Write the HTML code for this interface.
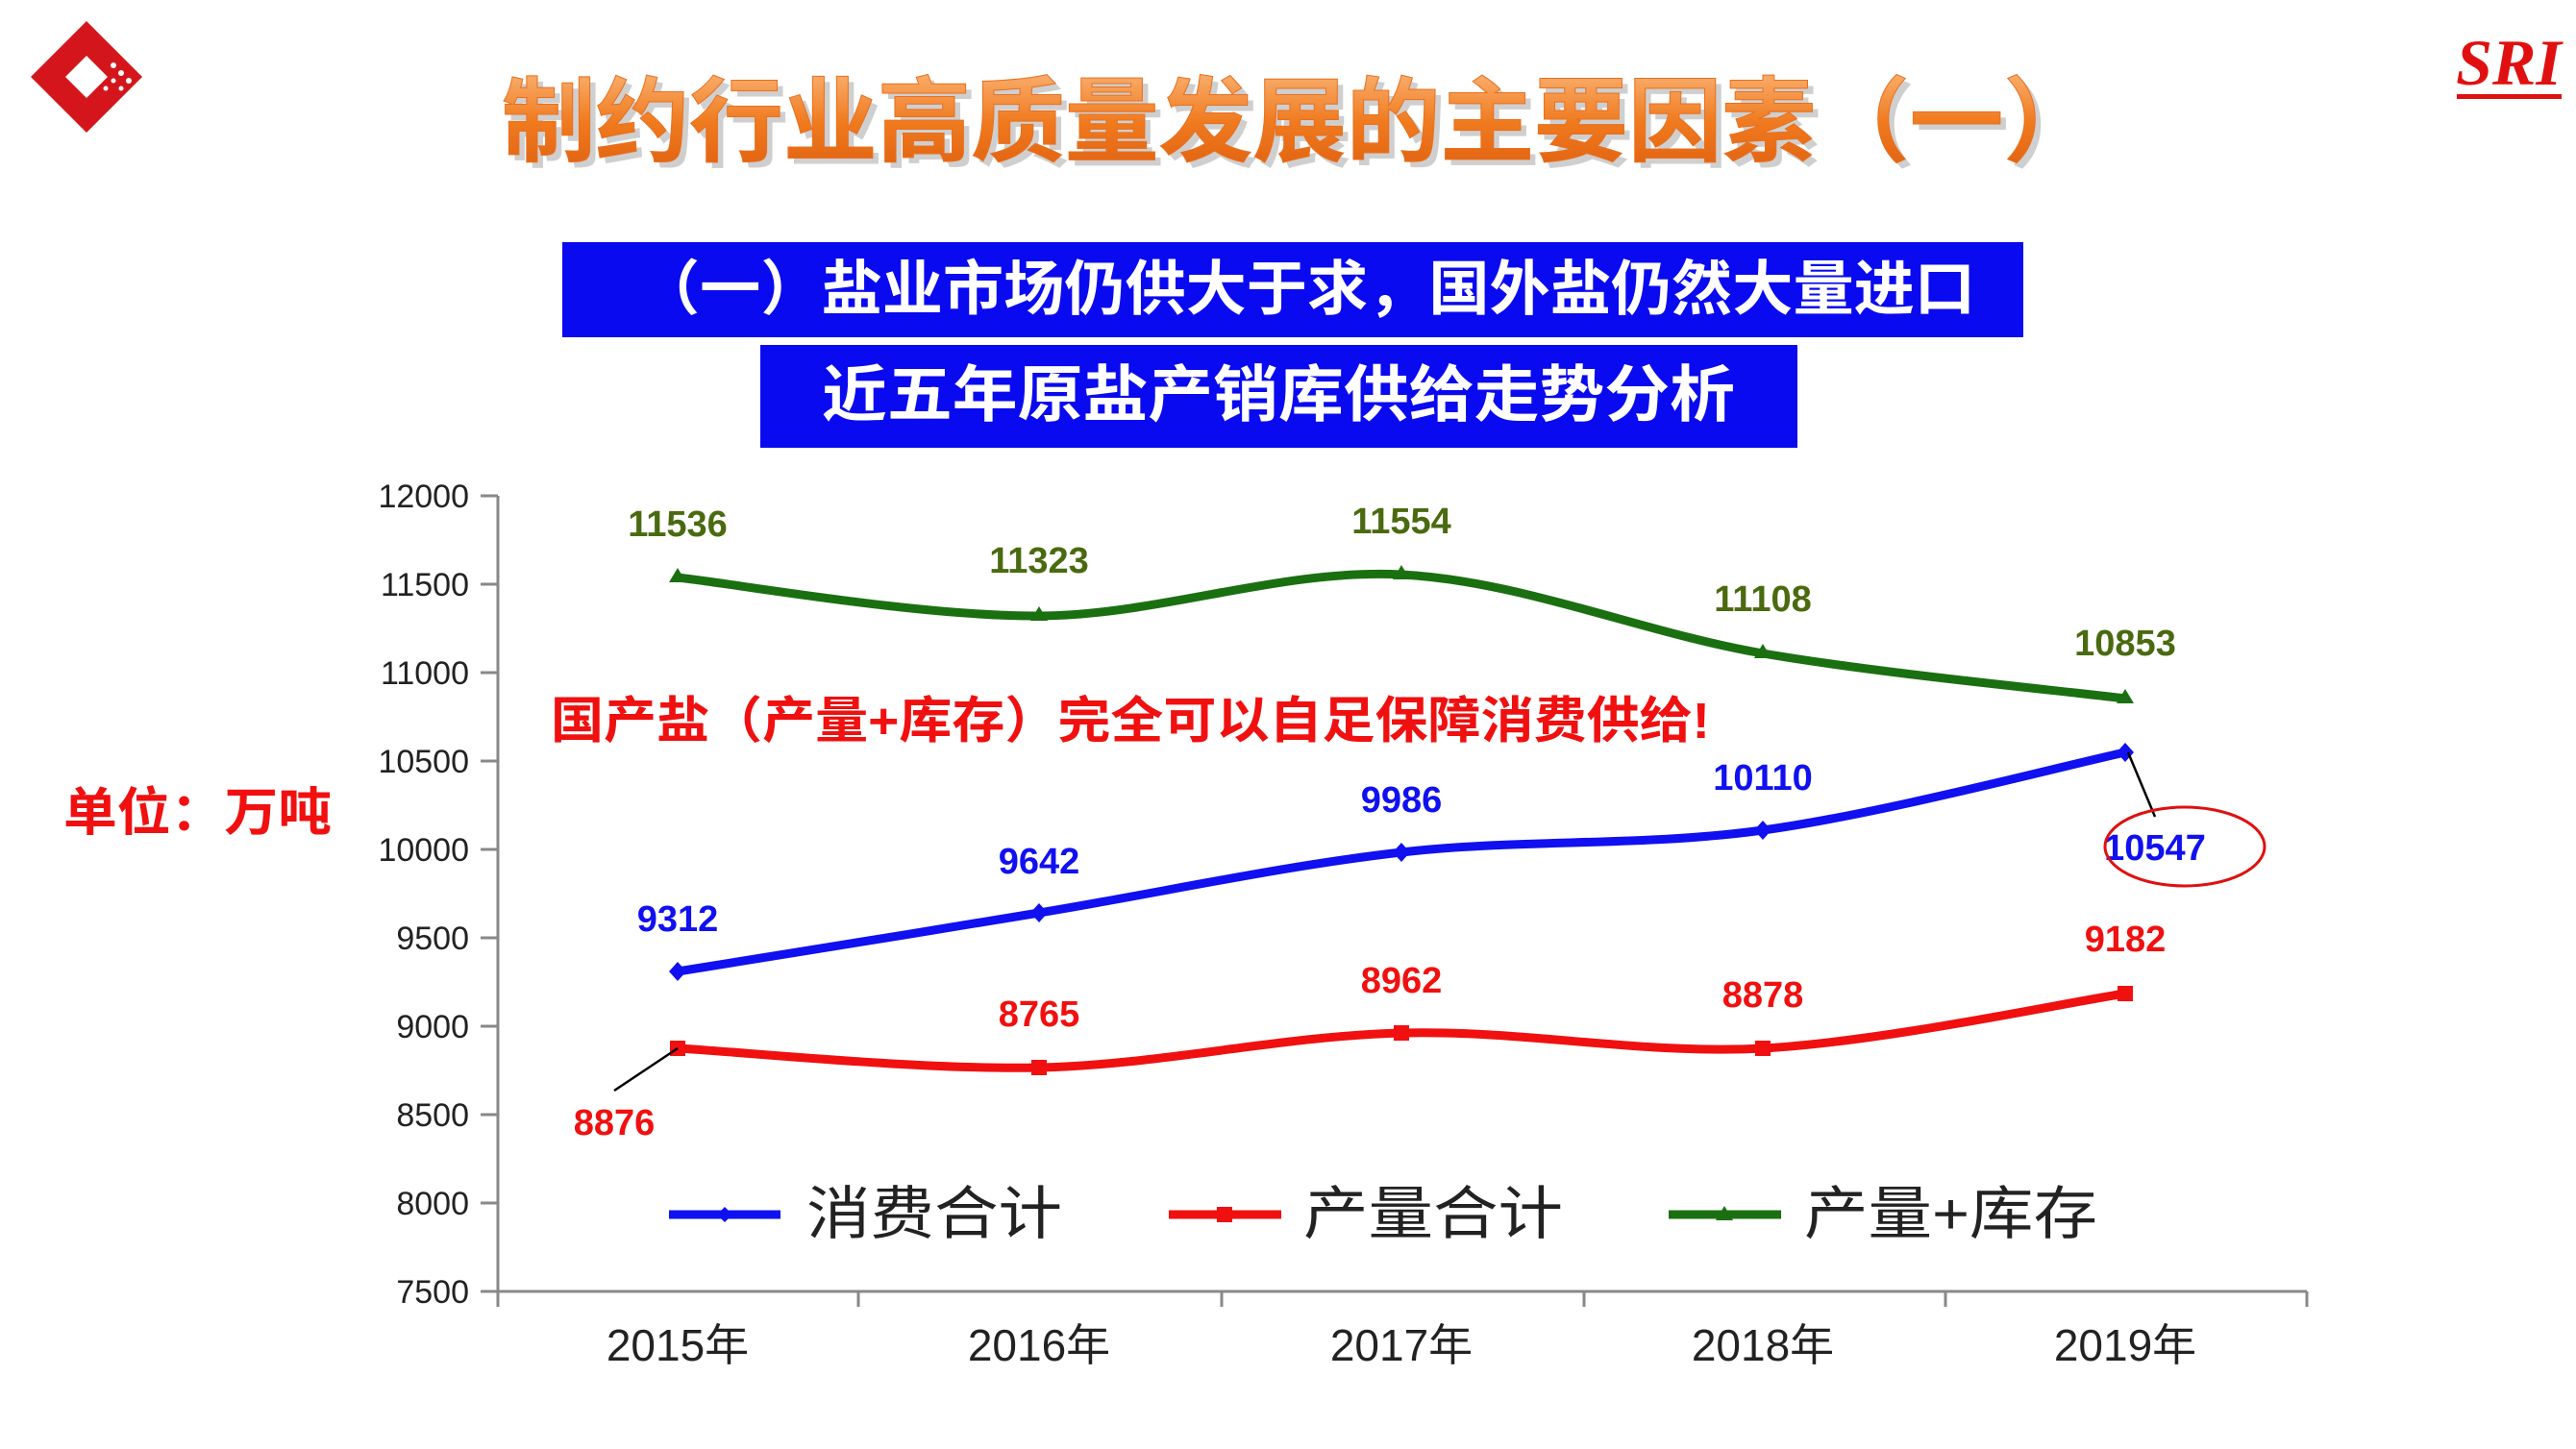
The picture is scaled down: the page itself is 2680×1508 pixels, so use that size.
<!DOCTYPE html>
<html><head><meta charset="utf-8"><style>
html,body{margin:0;padding:0;background:#fff;}
svg{display:block;}
</style></head><body>
<svg width="2680" height="1508" viewBox="0 0 2680 1508" xmlns="http://www.w3.org/2000/svg" font-family="'Liberation Sans','Noto Sans CJK SC',sans-serif">
<defs>
<linearGradient id="og" x1="0" y1="0" x2="0" y2="1">
<stop offset="0" stop-color="#f9b070"/><stop offset="0.5" stop-color="#f07a1e"/><stop offset="1" stop-color="#e06010"/>
</linearGradient>
</defs>
<!-- logo -->
<polygon points="90,22 148,80 90,138 32,80" fill="#d4161c"/>
<polygon points="90,58 112,80 90,102 68,80" fill="#fff"/>
<g fill="#fff"><circle cx="118" cy="68" r="3"/><circle cx="126" cy="76" r="3"/><circle cx="134" cy="84" r="3"/><circle cx="118" cy="84" r="2.5"/><circle cx="126" cy="92" r="2.5"/><circle cx="110" cy="92" r="2.5"/></g>
<!-- SRI -->
<text x="2610" y="88" text-anchor="middle" font-family="'Liberation Serif',serif" font-style="italic" font-weight="bold" font-size="68" fill="#e01010">SRI</text>
<rect x="2556" y="98" width="109" height="5" fill="#e01010"/>
<!-- title -->
<text x="1358" y="166" text-anchor="middle" font-size="96" font-weight="bold" fill="#a0a0a0" opacity="0.5" textLength="1660" lengthAdjust="spacingAndGlyphs">制约行业高质量发展的主要因素（一）</text>
<text x="1352" y="160" text-anchor="middle" font-size="96" font-weight="bold" fill="url(#og)" stroke="#e87020" stroke-width="1" textLength="1660" lengthAdjust="spacingAndGlyphs">制约行业高质量发展的主要因素（一）</text>
<!-- boxes -->
<rect x="585" y="252" width="1520" height="99" fill="#0a0af0"/>
<text x="1360" y="322" text-anchor="middle" font-size="62" font-weight="bold" fill="#fff" textLength="1390" lengthAdjust="spacingAndGlyphs">（一）盐业市场仍供大于求，国外盐仍然大量进口</text>
<rect x="791" y="359" width="1079" height="107" fill="#0a0af0"/>
<text x="1330" y="433" text-anchor="middle" font-size="64" font-weight="bold" fill="#fff" textLength="950" lengthAdjust="spacingAndGlyphs">近五年原盐产销库供给走势分析</text>
<!-- axes -->
<g stroke="#888" stroke-width="3" fill="none">
<line x1="518" y1="516" x2="518" y2="1360"/>
<line x1="518" y1="1344" x2="2400" y2="1344"/>
<line x1="500" y1="516" x2="518" y2="516"/><line x1="500" y1="608" x2="518" y2="608"/><line x1="500" y1="700" x2="518" y2="700"/><line x1="500" y1="792" x2="518" y2="792"/><line x1="500" y1="884" x2="518" y2="884"/><line x1="500" y1="976" x2="518" y2="976"/><line x1="500" y1="1068" x2="518" y2="1068"/><line x1="500" y1="1160" x2="518" y2="1160"/><line x1="500" y1="1252" x2="518" y2="1252"/><line x1="500" y1="1344" x2="518" y2="1344"/>
<line x1="893" y1="1344" x2="893" y2="1360"/><line x1="1271" y1="1344" x2="1271" y2="1360"/><line x1="1648" y1="1344" x2="1648" y2="1360"/><line x1="2024" y1="1344" x2="2024" y2="1360"/><line x1="2400" y1="1344" x2="2400" y2="1360"/>
</g>
<g font-size="34" fill="#222" text-anchor="end">
<text x="488" y="528">12000</text><text x="488" y="620">11500</text><text x="488" y="712">11000</text><text x="488" y="804">10500</text><text x="488" y="896">10000</text><text x="488" y="988">9500</text><text x="488" y="1080">9000</text><text x="488" y="1172">8500</text><text x="488" y="1264">8000</text><text x="488" y="1356">7500</text>
</g>
<g font-size="46" fill="#222" text-anchor="middle">
<text x="705" y="1416">2015年</text><text x="1081" y="1416">2016年</text><text x="1458" y="1416">2017年</text><text x="1834" y="1416">2018年</text><text x="2211" y="1416">2019年</text>
</g>
<!-- series -->
<path d="M705,601 C768,608 956,641.5 1081,641 C1206.5,640.5 1332.5,591.5 1458,598 C1583.5,604.5 1708.5,658.5 1834,680 C1959.5,701.5 2148,719 2211,727" stroke="#1a7010" stroke-width="9" fill="none"/>
<path d="M705,1011 C768,1001 956,970.7 1081,950 C1206.5,929.3 1332.5,901.3 1458,887 C1583.5,872.7 1708.5,881.3 1834,864 C1959.5,846.7 2148,796.5 2211,783" stroke="#1010f0" stroke-width="9" fill="none"/>
<path d="M705,1091 C768,1094.3 956,1113.7 1081,1111 C1206.5,1108.3 1332.5,1078.3 1458,1075 C1583.5,1071.7 1708.5,1097.8 1834,1091 C1959.5,1084.2 2148,1043.5 2211,1034" stroke="#f01010" stroke-width="9" fill="none"/>
<g fill="#1a7010"><polygon points="705,591 714,606 696,606"/><polygon points="1081,631 1090,646 1072,646"/><polygon points="1458,588 1467,603 1449,603"/><polygon points="1834,670 1843,685 1825,685"/><polygon points="2211,717 2220,732 2202,732"/></g>
<g fill="#1010f0"><polygon points="705,1001 714,1011 705,1021 696,1011"/><polygon points="1081,940 1090,950 1081,960 1072,950"/><polygon points="1458,877 1467,887 1458,897 1449,887"/><polygon points="1834,854 1843,864 1834,874 1825,864"/><polygon points="2211,773 2220,783 2211,793 2202,783"/></g>
<g fill="#f01010"><rect x="697" y="1083" width="16" height="16"/><rect x="1073" y="1103" width="16" height="16"/><rect x="1450" y="1067" width="16" height="16"/><rect x="1826" y="1083" width="16" height="16"/><rect x="2203" y="1026" width="16" height="16"/></g>
<!-- data labels -->
<g font-size="38" font-weight="bold" text-anchor="middle">
<g fill="#4a6a10"><text x="705" y="558">11536</text><text x="1081" y="596">11323</text><text x="1458" y="555">11554</text><text x="1834" y="636">11108</text><text x="2211" y="682">10853</text></g>
<g fill="#1010f0"><text x="705" y="969">9312</text><text x="1081" y="909">9642</text><text x="1458" y="845">9986</text><text x="1834" y="822">10110</text><text x="2242" y="895">10547</text></g>
<g fill="#f01010"><text x="639" y="1181">8876</text><text x="1081" y="1068">8765</text><text x="1458" y="1033">8962</text><text x="1834" y="1048">8878</text><text x="2211" y="990">9182</text></g>
</g>
<line x1="639" y1="1135" x2="705" y2="1091" stroke="#000" stroke-width="2.5"/>
<line x1="2214" y1="783" x2="2242" y2="850" stroke="#000" stroke-width="2.5"/>
<ellipse cx="2273" cy="881" rx="83" ry="41" stroke="#e01010" stroke-width="3" fill="none"/>
<!-- annotations -->
<text x="573" y="768" font-size="52" font-weight="bold" fill="#f01010" textLength="1206" lengthAdjust="spacingAndGlyphs">国产盐（产量+库存）完全可以自足保障消费供给!</text>
<text x="66" y="864" font-size="54" font-weight="bold" fill="#f01010" textLength="279" lengthAdjust="spacingAndGlyphs">单位：万吨</text>
<!-- legend -->
<line x1="696" y1="1264" x2="812" y2="1264" stroke="#1010f0" stroke-width="9"/><polygon points="754,1256 762,1264 754,1272 746,1264" fill="#1010f0"/>
<text x="839" y="1284" font-size="60" fill="#222" textLength="266" lengthAdjust="spacingAndGlyphs">消费合计</text>
<line x1="1216" y1="1264" x2="1333" y2="1264" stroke="#f01010" stroke-width="9"/><rect x="1266" y="1256" width="16" height="16" fill="#f01010"/>
<text x="1356" y="1284" font-size="60" fill="#222" textLength="270" lengthAdjust="spacingAndGlyphs">产量合计</text>
<line x1="1736" y1="1264" x2="1853" y2="1264" stroke="#1a7010" stroke-width="9"/><polygon points="1794,1255 1803,1270 1785,1270" fill="#1a7010"/>
<text x="1877" y="1284" font-size="60" fill="#222" textLength="305" lengthAdjust="spacingAndGlyphs">产量+库存</text>
</svg>
</body></html>
